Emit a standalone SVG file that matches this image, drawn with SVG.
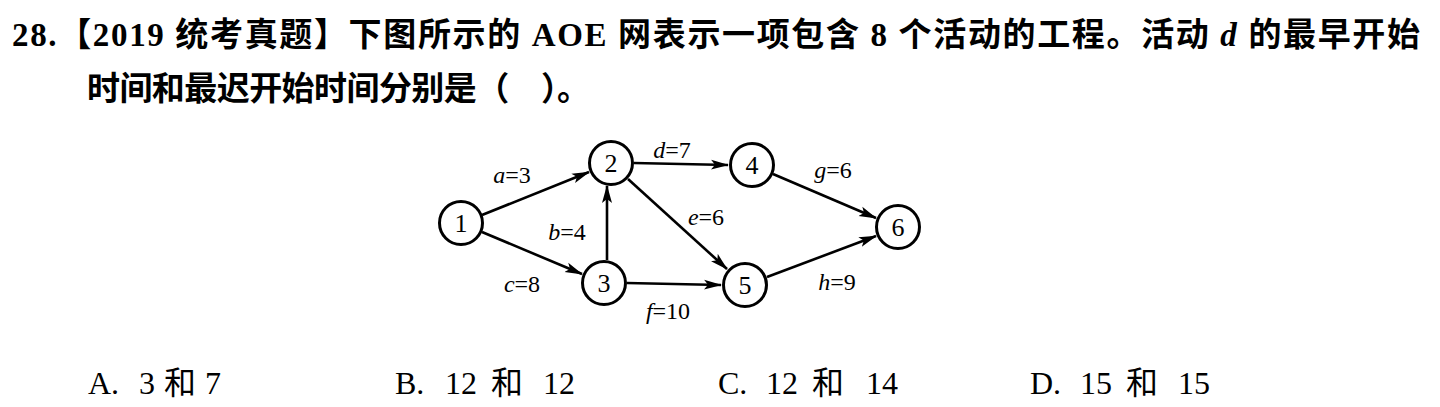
<svg xmlns="http://www.w3.org/2000/svg" width="1440" height="407" viewBox="0 0 1440 407">
<style>
.t{font-family:"Liberation Serif","Noto Sans CJK SC",serif;font-weight:bold;font-size:33px;fill:#000}
.o{font-family:"Liberation Serif","Noto Sans CJK SC",serif;font-size:32px;fill:#000}
.n{font-family:"Liberation Serif",serif;font-size:26px;fill:#000;text-anchor:middle}
.l{font-family:"Liberation Serif",serif;font-size:24px;fill:#000;text-anchor:middle}
.i{font-style:italic}
circle{fill:#fff;stroke:#000;stroke-width:3}
.e{stroke:#000;stroke-width:2.6;fill:none;marker-end:url(#ah)}
</style>
<defs>
<marker id="ah" markerUnits="userSpaceOnUse" markerWidth="20" markerHeight="12" refX="17" refY="6" orient="auto">
<path d="M0,1 L18,6 L0,11 L4,6 Z" fill="#000"/>
</marker>
</defs>
<text class="t" x="12" y="46" textLength="1408" lengthAdjust="spacing">28.【2019 统考真题】下图所示的 AOE 网表示一项包含 8 个活动的工程。活动 <tspan class="i">d</tspan> 的最早开始</text>
<text class="t" x="87" y="100" textLength="503" lengthAdjust="spacing">时间和最迟开始时间分别是（　）。</text>
<g id="connectors">
<line class="e" x1="482" y1="215" x2="589" y2="172"/>
<line class="e" x1="482" y1="232" x2="582" y2="274"/>
<line class="e" x1="607" y1="260" x2="607" y2="186"/>
<line class="e" x1="634" y1="163" x2="728" y2="165"/>
<line class="e" x1="628" y1="179" x2="727" y2="269"/>
<line class="e" x1="627" y1="283" x2="721" y2="285"/>
<line class="e" x1="773" y1="174" x2="876" y2="218"/>
<line class="e" x1="767" y1="277" x2="876" y2="236"/>
<text class="l" x="512" y="183"><tspan class="i">a</tspan>=3</text>
<text class="l" x="672" y="158"><tspan class="i">d</tspan>=7</text>
<text class="l" x="567" y="240"><tspan class="i">b</tspan>=4</text>
<text class="l" x="706" y="225"><tspan class="i">e</tspan>=6</text>
<text class="l" x="522" y="292"><tspan class="i">c</tspan>=8</text>
<text class="l" x="668" y="319"><tspan class="i">f</tspan>=10</text>
<text class="l" x="833" y="178"><tspan class="i">g</tspan>=6</text>
<text class="l" x="837" y="290"><tspan class="i">h</tspan>=9</text>
</g>
<g id="n1"><circle cx="461" cy="223" r="21.5"/><text class="n" x="461" y="232">1</text></g>
<g id="n2"><circle cx="611" cy="163" r="21.5"/><text class="n" x="611" y="172">2</text></g>
<g id="n3"><circle cx="604" cy="283" r="21.5"/><text class="n" x="604" y="292">3</text></g>
<g id="n4"><circle cx="752" cy="165" r="21.5"/><text class="n" x="752" y="174">4</text></g>
<g id="n5"><circle cx="745" cy="285" r="21.5"/><text class="n" x="745" y="294">5</text></g>
<g id="n6"><circle cx="898" cy="227" r="21.5"/><text class="n" x="898" y="236">6</text></g>
<g id="options">
<text class="o" x="88" y="394">A.<tspan x="139">3</tspan><tspan x="164">和</tspan><tspan x="205">7</tspan></text>
<text class="o" x="395" y="394">B.<tspan x="445">12</tspan><tspan x="491">和</tspan><tspan x="543">12</tspan></text>
<text class="o" x="718" y="394">C.<tspan x="766">12</tspan><tspan x="812">和</tspan><tspan x="866">14</tspan></text>
<text class="o" x="1030" y="394">D.<tspan x="1080">15</tspan><tspan x="1126">和</tspan><tspan x="1178">15</tspan></text>
</g>
</svg>
